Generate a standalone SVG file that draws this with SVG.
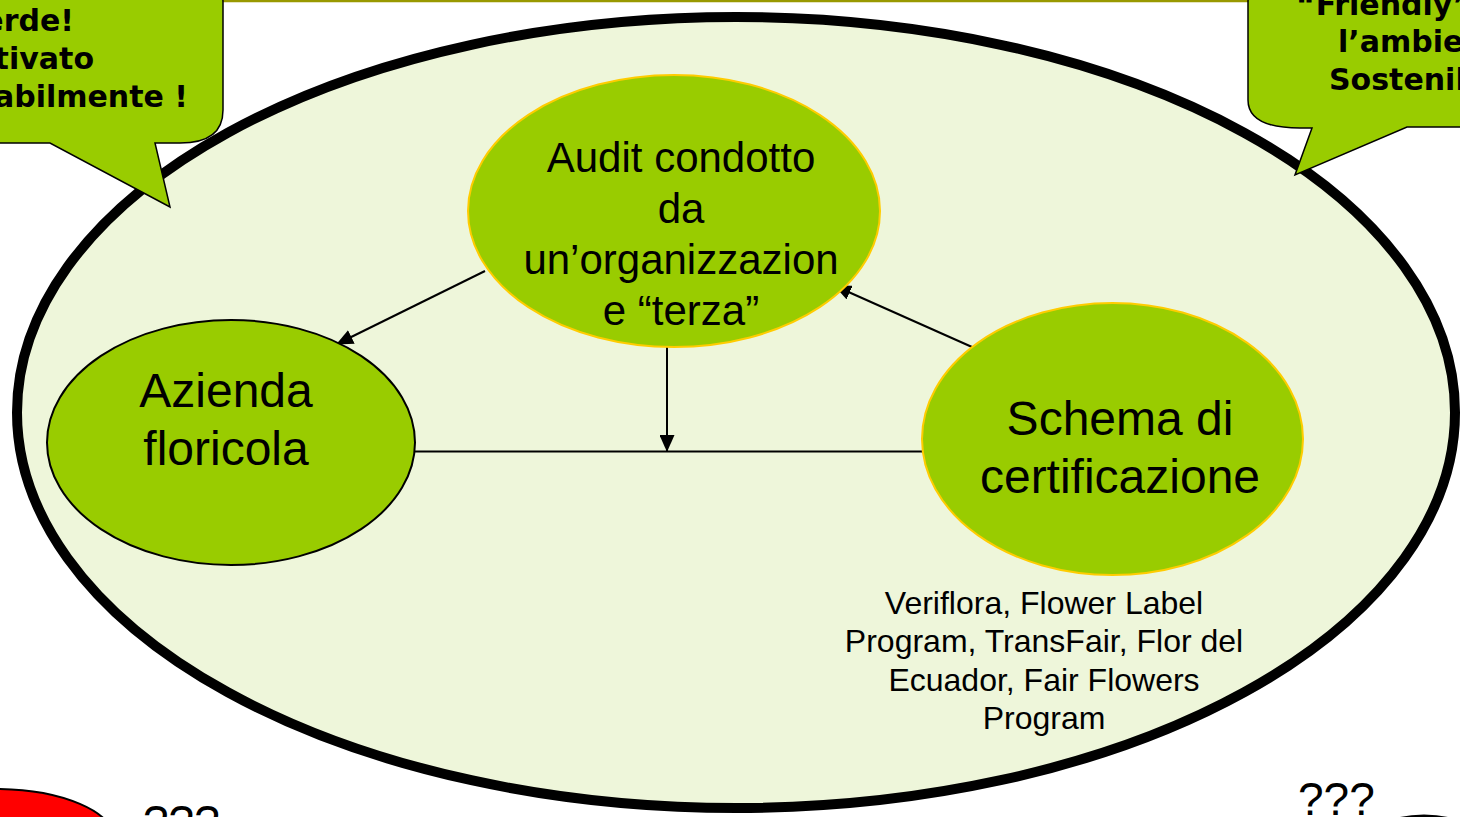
<svg xmlns="http://www.w3.org/2000/svg" width="1460" height="817" viewBox="0 0 1460 817">
<style>
.node{fill:#99CC00;stroke:#FFCC00;stroke-width:2}
.nodeb{fill:#99CC00;stroke:#000;stroke-width:2}
.call{fill:#99CC00;stroke:#000;stroke-width:1.5}
.t{font-family:"Liberation Sans",Arial,sans-serif;fill:#000}
.cb{font-family:"DejaVu Sans",Verdana,sans-serif;font-weight:bold;font-size:30px;fill:#000}
.conn{stroke:#000;stroke-width:2;fill:none}
</style>
<defs>
<marker id="ah" markerWidth="17" markerHeight="15" refX="16" refY="7.5" orient="auto" markerUnits="userSpaceOnUse">
<path d="M0,0 L17,7.5 L0,15 Z" fill="#000"/>
</marker>
</defs>
<rect width="1460" height="817" fill="#fff"/>
<line x1="0" y1="1" x2="1460" y2="1" stroke="#999900" stroke-width="2.5"/>
<g id="frame">
<ellipse cx="736" cy="412.5" rx="719" ry="395.5" fill="#EEF6DA" stroke="#000" stroke-width="10"/>
</g>
<g id="callout-left">
<path class="call" d="M-30,-12 H209 Q223,-12 223,2 V110 Q223,143 180,143 H155 L170,207 L50,143 H-30 Z"/>
<text class="cb" text-anchor="end"><tspan x="74" y="31">Verde!</tspan><tspan x="94" y="69">Coltivato</tspan><tspan x="188" y="107">Responsabilmente !</tspan></text>
</g>
<g id="callout-right">
<path class="call" d="M1490,-12 H1262 Q1248,-12 1248,2 V100 Q1248,128 1300,128 H1312 L1295,175 L1407,127 H1490 Z"/>
<text class="cb"><tspan x="1296" y="15">“Friendly” con</tspan><tspan x="1338" y="52">l’ambiente</tspan><tspan x="1329" y="90">Sostenibile</tspan></text>
</g>
<g id="connectors">
<line class="conn" x1="485" y1="271" x2="337" y2="344" marker-end="url(#ah)"/>
<line class="conn" x1="972" y1="347" x2="835" y2="286" marker-end="url(#ah)"/>
<line class="conn" x1="667" y1="347" x2="667" y2="451" marker-end="url(#ah)"/>
<line class="conn" x1="415" y1="451.5" x2="922" y2="451.5"/>
</g>
<g id="node-audit">
<ellipse class="node" cx="674" cy="211" rx="206" ry="136"/>
<text class="t" font-size="42" text-anchor="middle"><tspan x="681" y="172">Audit condotto</tspan><tspan x="681" y="223">da</tspan><tspan x="681" y="274">un’organizzazion</tspan><tspan x="681" y="325">e “terza”</tspan></text>
</g>
<g id="node-azienda">
<ellipse class="nodeb" cx="231" cy="442.5" rx="184" ry="122.5"/>
<text class="t" font-size="48" text-anchor="middle"><tspan x="226" y="407">Azienda</tspan><tspan x="226" y="465">floricola</tspan></text>
</g>
<g id="node-schema">
<ellipse class="node" cx="1112.5" cy="439" rx="190.5" ry="136"/>
<text class="t" font-size="48" text-anchor="middle"><tspan x="1120" y="435">Schema di</tspan><tspan x="1120" y="493">certificazione</tspan></text>
</g>
<g id="caption">
<text class="t" font-size="32" text-anchor="middle"><tspan x="1044" y="614">Veriflora, Flower Label</tspan><tspan x="1044" y="652">Program, TransFair, Flor del</tspan><tspan x="1044" y="691">Ecuador, Fair Flowers</tspan><tspan x="1044" y="729">Program</tspan></text>
</g>
<g id="bottom-left">
<ellipse cx="-5" cy="840" rx="120" ry="51" fill="#FF0000" stroke="#000" stroke-width="2"/>
<text class="t" font-size="46" x="143" y="838">???</text>
</g>
<g id="bottom-right">
<ellipse cx="1424" cy="850" rx="62" ry="34" fill="#fff" stroke="#000" stroke-width="3"/>
<text class="t" font-size="46" x="1298" y="815">???</text>
</g>
</svg>
